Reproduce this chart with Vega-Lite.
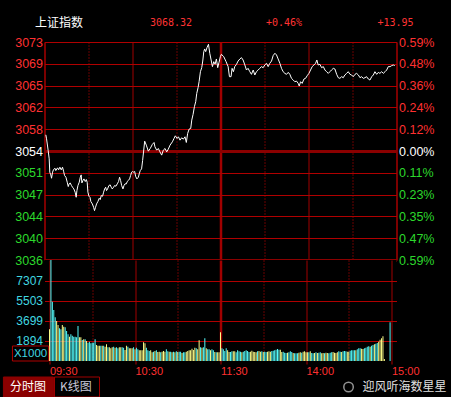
{
"$schema": "https://vega.github.io/schema/vega-lite/v6.json",
"background": "#000000",
"padding": {"left": 2.5, "top": 2, "right": 4, "bottom": 0},
"spacing": 0,
"config": {
  "view": {"stroke": null},
  "axis": {"labelFont": "Liberation Sans", "title": null, "domain": false}
},
"datasets": {
"price": [
{"m":0.9,"p":3057.07},{"m":1.4,"p":3056.40},{"m":2.5,"p":3054.45},{"m":3.2,"p":3053.06},{"m":3.6,"p":3050.84},{"m":4.3,"p":3050.39},{"m":4.8,"p":3049.83},{"m":5.5,"p":3050.84},{"m":6.1,"p":3051.23},{"m":7.1,"p":3051.50},{"m":7.7,"p":3051.11},{"m":8.9,"p":3051.56},{"m":9.6,"p":3051.23},{"m":10.5,"p":3051.67},{"m":11.4,"p":3051.23},{"m":12.3,"p":3051.67},{"m":13.0,"p":3051.00},{"m":13.7,"p":3050.28},{"m":14.6,"p":3050.00},{"m":15.5,"p":3049.17},{"m":16.2,"p":3048.44},{"m":16.8,"p":3048.89},{"m":17.5,"p":3049.05},{"m":18.4,"p":3048.61},{"m":19.1,"p":3048.33},{"m":20.0,"p":3048.05},{"m":20.9,"p":3047.50},{"m":21.6,"p":3046.66},{"m":22.1,"p":3047.77},{"m":22.8,"p":3048.61},{"m":23.7,"p":3049.17},{"m":24.4,"p":3050.00},{"m":25.0,"p":3050.39},{"m":25.5,"p":3049.05},{"m":26.2,"p":3049.44},{"m":26.9,"p":3049.72},{"m":27.8,"p":3049.28},{"m":28.5,"p":3049.61},{"m":29.1,"p":3049.17},{"m":29.6,"p":3047.50},{"m":30.3,"p":3046.83},{"m":31.0,"p":3046.66},{"m":31.6,"p":3045.94},{"m":32.6,"p":3045.55},{"m":33.5,"p":3044.99},{"m":34.1,"p":3044.43},{"m":34.8,"p":3044.99},{"m":35.5,"p":3045.55},{"m":36.4,"p":3045.94},{"m":37.3,"p":3046.49},{"m":38.0,"p":3046.27},{"m":38.7,"p":3046.94},{"m":39.6,"p":3046.83},{"m":40.3,"p":3047.50},{"m":41.0,"p":3048.05},{"m":41.7,"p":3048.33},{"m":42.3,"p":3047.77},{"m":43.0,"p":3048.05},{"m":43.9,"p":3048.61},{"m":44.8,"p":3048.72},{"m":45.5,"p":3048.33},{"m":46.2,"p":3048.05},{"m":47.1,"p":3048.33},{"m":47.8,"p":3048.61},{"m":48.7,"p":3048.50},{"m":49.6,"p":3048.89},{"m":50.5,"p":3049.28},{"m":51.2,"p":3050.00},{"m":51.9,"p":3049.44},{"m":52.6,"p":3048.61},{"m":53.5,"p":3048.05},{"m":54.2,"p":3048.61},{"m":54.9,"p":3048.89},{"m":55.8,"p":3048.89},{"m":56.4,"p":3049.28},{"m":57.1,"p":3049.44},{"m":58.0,"p":3049.72},{"m":58.7,"p":3050.28},{"m":59.4,"p":3050.84},{"m":60.1,"p":3050.95},{"m":60.8,"p":3050.84},{"m":61.5,"p":3050.95},{"m":62.1,"p":3050.17},{"m":63.0,"p":3049.72},{"m":64.0,"p":3050.00},{"m":64.6,"p":3050.56},{"m":65.3,"p":3051.11},{"m":66.2,"p":3051.39},{"m":66.9,"p":3052.79},
{"m":68.3,"p":3056.01},{"m":69.4,"p":3055.35},{"m":70.8,"p":3054.34},{"m":72.1,"p":3054.79},{"m":73.5,"p":3055.46},{"m":74.7,"p":3055.79},{"m":75.3,"p":3055.07},{"m":76.5,"p":3054.51},{"m":77.6,"p":3054.79},{"m":78.7,"p":3054.23},{"m":79.9,"p":3053.68},{"m":81.0,"p":3054.51},{"m":82.2,"p":3054.79},{"m":83.3,"p":3054.23},{"m":84.4,"p":3054.68},{"m":85.6,"p":3055.35},{"m":87.2,"p":3055.90},{"m":88.3,"p":3056.46},{"m":89.2,"p":3056.90},{"m":90.4,"p":3056.46},{"m":91.3,"p":3056.74},{"m":92.4,"p":3056.18},{"m":93.5,"p":3056.57},{"m":94.7,"p":3056.35},{"m":95.8,"p":3056.74},{"m":96.7,"p":3055.79},{"m":97.6,"p":3057.29},{"m":98.6,"p":3058.02},{"m":99.7,"p":3058.13},{"m":100.4,"p":3059.52},{"m":101.3,"p":3060.47},{"m":102.2,"p":3061.75},{"m":103.1,"p":3062.58},{"m":103.8,"p":3063.97},{"m":104.7,"p":3064.92},{"m":105.4,"p":3065.92},{"m":106.3,"p":3067.59},{"m":107.2,"p":3068.26},{"m":107.9,"p":3069.37},{"m":108.6,"p":3070.93},{"m":109.2,"p":3071.38},{"m":109.9,"p":3070.93},{"m":110.8,"p":3071.60},{"m":111.8,"p":3072.16},{"m":112.7,"p":3070.65},{"m":113.6,"p":3069.54},{"m":114.5,"p":3068.43},{"m":115.4,"p":3069.26},{"m":116.3,"p":3068.82},{"m":117.2,"p":3069.71},{"m":118.1,"p":3068.26},{"m":119.0,"p":3069.15},{"m":119.9,"p":3070.10},
{"m":120.6,"p":3070.49},{"m":122.2,"p":3070.10},{"m":123.8,"p":3069.26},{"m":125.2,"p":3068.43},{"m":126.1,"p":3066.76},{"m":127.2,"p":3066.76},{"m":127.9,"p":3068.15},{"m":128.8,"p":3067.59},{"m":129.7,"p":3068.43},{"m":130.9,"p":3068.82},{"m":132.0,"p":3069.37},{"m":133.2,"p":3069.71},{"m":134.3,"p":3069.93},{"m":135.4,"p":3069.54},{"m":136.6,"p":3068.71},{"m":137.7,"p":3067.87},{"m":138.8,"p":3068.15},{"m":140.0,"p":3067.59},{"m":141.1,"p":3067.15},{"m":142.3,"p":3067.87},{"m":143.4,"p":3067.04},{"m":144.5,"p":3067.59},{"m":145.7,"p":3067.87},{"m":146.8,"p":3068.15},{"m":147.9,"p":3068.43},{"m":149.1,"p":3068.26},{"m":150.2,"p":3068.71},{"m":151.4,"p":3068.98},{"m":152.5,"p":3068.43},{"m":153.6,"p":3068.98},{"m":154.8,"p":3069.37},{"m":155.9,"p":3070.27},{"m":157.1,"p":3070.66},{"m":158.2,"p":3070.38},{"m":159.3,"p":3069.71},{"m":160.5,"p":3068.98},{"m":161.6,"p":3068.15},{"m":162.7,"p":3067.59},{"m":163.9,"p":3067.31},{"m":165.0,"p":3067.15},{"m":166.2,"p":3067.48},{"m":167.3,"p":3067.15},{"m":168.4,"p":3066.48},{"m":169.6,"p":3066.20},{"m":170.7,"p":3065.92},{"m":171.8,"p":3066.03},{"m":173.0,"p":3065.64},{"m":173.7,"p":3065.20},{"m":174.6,"p":3065.92},{"m":175.7,"p":3065.64},{"m":176.9,"p":3066.37},{"m":178.0,"p":3066.48},{"m":179.1,"p":3066.92},{"m":180.3,"p":3067.31},{"m":181.4,"p":3067.87},{"m":182.5,"p":3068.43},{"m":183.7,"p":3068.71},{"m":184.8,"p":3068.98},{"m":185.7,"p":3069.54},{"m":186.6,"p":3068.71},{"m":187.8,"p":3068.82},{"m":188.9,"p":3068.26},{"m":190.1,"p":3068.43},{"m":191.2,"p":3067.87},{"m":192.3,"p":3067.59},{"m":193.5,"p":3067.31},{"m":194.6,"p":3067.59},{"m":195.7,"p":3067.87},{"m":196.9,"p":3068.15},{"m":198.0,"p":3068.04},{"m":199.2,"p":3067.15},{"m":200.3,"p":3066.59},{"m":201.4,"p":3066.48},{"m":202.6,"p":3066.76},{"m":203.7,"p":3066.59},{"m":204.8,"p":3067.04},{"m":206.0,"p":3067.31},{"m":207.1,"p":3067.59},{"m":208.3,"p":3067.15},{"m":209.4,"p":3067.04},{"m":210.5,"p":3066.76},{"m":211.7,"p":3067.15},{"m":212.8,"p":3067.31},{"m":214.0,"p":3067.04},{"m":215.1,"p":3066.59},{"m":216.2,"p":3066.76},{"m":217.4,"p":3066.48},{"m":218.5,"p":3066.59},{"m":219.6,"p":3066.76},{"m":220.8,"p":3066.37},{"m":221.9,"p":3066.20},{"m":223.1,"p":3066.76},{"m":224.2,"p":3067.04},{"m":225.3,"p":3067.59},{"m":226.5,"p":3067.15},{"m":227.6,"p":3067.48},{"m":228.7,"p":3067.31},{"m":229.9,"p":3067.59},{"m":231.0,"p":3067.31},{"m":232.2,"p":3067.59},{"m":233.3,"p":3067.87},{"m":234.4,"p":3068.43},{"m":235.6,"p":3068.43},{"m":236.7,"p":3068.60},{"m":237.8,"p":3068.71},{"m":238.8,"p":3068.60}
],
"vol": [
{"m":0,"v":2950,"c":"Y"},{"m":1,"v":9200,"c":"C"},{"m":2,"v":5444,"c":"C"},{"m":3,"v":4692,"c":"C"},{"m":4,"v":4031,"c":"C"},{"m":5,"v":3700,"c":"Y"},{"m":6,"v":3339,"c":"Y"},{"m":7,"v":3038,"c":"C"},{"m":8,"v":2948,"c":"C"},{"m":9,"v":3339,"c":"Y"},
{"m":10,"v":3189,"c":"Y"},{"m":11,"v":3128,"c":"C"},{"m":12,"v":2798,"c":"C"},{"m":13,"v":2497,"c":"C"},{"m":14,"v":2286,"c":"Y"},{"m":15,"v":2497,"c":"C"},{"m":16,"v":2377,"c":"C"},{"m":17,"v":2286,"c":"C"},{"m":18,"v":2286,"c":"C"},{"m":19,"v":2226,"c":"C"},
{"m":20,"v":3249,"c":"C"},{"m":21,"v":2226,"c":"Y"},{"m":22,"v":2226,"c":"Y"},{"m":23,"v":1986,"c":"C"},{"m":24,"v":2046,"c":"Y"},{"m":25,"v":2046,"c":"C"},{"m":26,"v":1896,"c":"Y"},{"m":27,"v":1745,"c":"C"},{"m":28,"v":1835,"c":"C"},{"m":29,"v":1685,"c":"C"},
{"m":30,"v":1745,"c":"C"},{"m":31,"v":1745,"c":"C"},{"m":32,"v":2046,"c":"C"},{"m":33,"v":1535,"c":"Y"},{"m":34,"v":1475,"c":"Y"},{"m":35,"v":1475,"c":"Y"},{"m":36,"v":1475,"c":"C"},{"m":37,"v":1475,"c":"Y"},{"m":38,"v":1475,"c":"C"},{"m":39,"v":1385,"c":"Y"},
{"m":40,"v":1595,"c":"Y"},{"m":41,"v":1324,"c":"C"},{"m":42,"v":1324,"c":"Y"},{"m":43,"v":1234,"c":"Y"},{"m":44,"v":1324,"c":"Y"},{"m":45,"v":1385,"c":"C"},{"m":46,"v":1294,"c":"Y"},{"m":47,"v":1324,"c":"C"},{"m":48,"v":1234,"c":"C"},{"m":49,"v":1324,"c":"Y"},
{"m":50,"v":1324,"c":"Y"},{"m":51,"v":1324,"c":"C"},{"m":52,"v":1294,"c":"C"},{"m":53,"v":1084,"c":"Y"},{"m":54,"v":1475,"c":"Y"},{"m":55,"v":1385,"c":"C"},{"m":56,"v":1234,"c":"Y"},{"m":57,"v":1234,"c":"Y"},{"m":58,"v":1234,"c":"Y"},{"m":59,"v":1324,"c":"C"},
{"m":60,"v":1144,"c":"Y"},{"m":61,"v":1294,"c":"C"},{"m":62,"v":1144,"c":"C"},{"m":63,"v":1054,"c":"Y"},{"m":64,"v":1054,"c":"Y"},{"m":65,"v":1054,"c":"Y"},{"m":66,"v":1775,"c":"Y"},{"m":67,"v":1685,"c":"Y"},{"m":68,"v":1294,"c":"C"},{"m":69,"v":1054,"c":"C"},
{"m":70,"v":993,"c":"C"},{"m":71,"v":1054,"c":"Y"},{"m":72,"v":873,"c":"Y"},{"m":73,"v":933,"c":"C"},{"m":74,"v":993,"c":"Y"},{"m":75,"v":1054,"c":"C"},{"m":76,"v":903,"c":"Y"},{"m":77,"v":933,"c":"Y"},{"m":78,"v":873,"c":"C"},{"m":79,"v":933,"c":"Y"},
{"m":80,"v":993,"c":"Y"},{"m":81,"v":933,"c":"Y"},{"m":82,"v":1144,"c":"C"},{"m":83,"v":963,"c":"C"},{"m":84,"v":933,"c":"Y"},{"m":85,"v":933,"c":"C"},{"m":86,"v":873,"c":"Y"},{"m":87,"v":933,"c":"C"},{"m":88,"v":873,"c":"Y"},{"m":89,"v":963,"c":"C"},
{"m":90,"v":903,"c":"Y"},{"m":91,"v":933,"c":"C"},{"m":92,"v":933,"c":"C"},{"m":93,"v":813,"c":"Y"},{"m":94,"v":873,"c":"C"},{"m":95,"v":873,"c":"C"},{"m":96,"v":933,"c":"Y"},{"m":97,"v":993,"c":"Y"},{"m":98,"v":1054,"c":"Y"},{"m":99,"v":1054,"c":"Y"},
{"m":100,"v":1204,"c":"Y"},{"m":101,"v":1084,"c":"Y"},{"m":102,"v":1294,"c":"Y"},{"m":103,"v":1234,"c":"C"},{"m":104,"v":1144,"c":"Y"},{"m":105,"v":1956,"c":"Y"},{"m":106,"v":1324,"c":"C"},{"m":107,"v":1294,"c":"Y"},{"m":108,"v":1324,"c":"C"},{"m":109,"v":2136,"c":"C"},
{"m":110,"v":1234,"c":"Y"},{"m":111,"v":1144,"c":"C"},{"m":112,"v":1144,"c":"C"},{"m":113,"v":1054,"c":"Y"},{"m":114,"v":1144,"c":"C"},{"m":115,"v":1054,"c":"C"},{"m":116,"v":903,"c":"Y"},{"m":117,"v":873,"c":"C"},{"m":118,"v":873,"c":"Y"},{"m":119,"v":873,"c":"Y"},
{"m":120,"v":2678,"c":"Y"},{"m":121,"v":1234,"c":"C"},{"m":122,"v":1144,"c":"C"},{"m":123,"v":993,"c":"C"},{"m":124,"v":1234,"c":"C"},{"m":125,"v":1054,"c":"Y"},{"m":126,"v":903,"c":"Y"},{"m":127,"v":903,"c":"C"},{"m":128,"v":963,"c":"C"},{"m":129,"v":963,"c":"Y"},
{"m":130,"v":963,"c":"Y"},{"m":131,"v":873,"c":"C"},{"m":132,"v":1054,"c":"C"},{"m":133,"v":963,"c":"C"},{"m":134,"v":933,"c":"C"},{"m":135,"v":873,"c":"Y"},{"m":136,"v":933,"c":"C"},{"m":137,"v":993,"c":"C"},{"m":138,"v":1054,"c":"C"},{"m":139,"v":993,"c":"C"},
{"m":140,"v":903,"c":"C"},{"m":141,"v":933,"c":"Y"},{"m":142,"v":1024,"c":"Y"},{"m":143,"v":933,"c":"Y"},{"m":144,"v":903,"c":"Y"},{"m":145,"v":873,"c":"Y"},{"m":146,"v":963,"c":"C"},{"m":147,"v":993,"c":"Y"},{"m":148,"v":933,"c":"Y"},{"m":149,"v":963,"c":"C"},
{"m":150,"v":903,"c":"Y"},{"m":151,"v":933,"c":"C"},{"m":152,"v":903,"c":"C"},{"m":153,"v":933,"c":"Y"},{"m":154,"v":963,"c":"Y"},{"m":155,"v":933,"c":"Y"},{"m":156,"v":993,"c":"C"},{"m":157,"v":1024,"c":"C"},{"m":158,"v":1054,"c":"C"},{"m":159,"v":1114,"c":"C"},
{"m":160,"v":1174,"c":"C"},{"m":161,"v":1114,"c":"C"},{"m":162,"v":1114,"c":"Y"},{"m":163,"v":903,"c":"Y"},{"m":164,"v":933,"c":"C"},{"m":165,"v":843,"c":"C"},{"m":166,"v":813,"c":"C"},{"m":167,"v":843,"c":"Y"},{"m":168,"v":873,"c":"C"},{"m":169,"v":963,"c":"C"},
{"m":170,"v":903,"c":"C"},{"m":171,"v":813,"c":"Y"},{"m":172,"v":783,"c":"C"},{"m":173,"v":783,"c":"C"},{"m":174,"v":783,"c":"C"},{"m":175,"v":843,"c":"Y"},{"m":176,"v":873,"c":"Y"},{"m":177,"v":843,"c":"C"},{"m":178,"v":933,"c":"Y"},{"m":179,"v":963,"c":"Y"},
{"m":180,"v":873,"c":"Y"},{"m":181,"v":873,"c":"Y"},{"m":182,"v":873,"c":"C"},{"m":183,"v":963,"c":"Y"},{"m":184,"v":813,"c":"C"},{"m":185,"v":783,"c":"C"},{"m":186,"v":813,"c":"Y"},{"m":187,"v":873,"c":"C"},{"m":188,"v":813,"c":"Y"},{"m":189,"v":843,"c":"C"},
{"m":190,"v":873,"c":"C"},{"m":191,"v":783,"c":"Y"},{"m":192,"v":813,"c":"Y"},{"m":193,"v":783,"c":"C"},{"m":194,"v":843,"c":"Y"},{"m":195,"v":813,"c":"Y"},{"m":196,"v":783,"c":"C"},{"m":197,"v":843,"c":"C"},{"m":198,"v":873,"c":"C"},{"m":199,"v":903,"c":"Y"},
{"m":200,"v":843,"c":"Y"},{"m":201,"v":813,"c":"Y"},{"m":202,"v":873,"c":"Y"},{"m":203,"v":963,"c":"C"},{"m":204,"v":933,"c":"C"},{"m":205,"v":903,"c":"Y"},{"m":206,"v":963,"c":"C"},{"m":207,"v":993,"c":"C"},{"m":208,"v":963,"c":"C"},{"m":209,"v":933,"c":"Y"},
{"m":210,"v":933,"c":"Y"},{"m":211,"v":1024,"c":"C"},{"m":212,"v":1054,"c":"C"},{"m":213,"v":1054,"c":"C"},{"m":214,"v":1054,"c":"C"},{"m":215,"v":1054,"c":"Y"},{"m":216,"v":1144,"c":"C"},{"m":217,"v":1234,"c":"C"},{"m":218,"v":1234,"c":"C"},{"m":219,"v":1204,"c":"Y"},
{"m":220,"v":1174,"c":"Y"},{"m":221,"v":1234,"c":"C"},{"m":222,"v":1294,"c":"C"},{"m":223,"v":1385,"c":"C"},{"m":224,"v":1415,"c":"C"},{"m":225,"v":1385,"c":"Y"},{"m":226,"v":1475,"c":"C"},{"m":227,"v":1535,"c":"C"},{"m":228,"v":1595,"c":"Y"},{"m":229,"v":1655,"c":"C"},
{"m":230,"v":1715,"c":"C"},{"m":231,"v":1835,"c":"Y"},{"m":232,"v":2016,"c":"Y"},{"m":233,"v":2136,"c":"Y"},{"m":234,"v":2317,"c":"Y"},{"m":235,"v":271,"c":"Y"},{"m":239,"v":3580,"c":"C"}
]
},
"vconcat": [
{
  "bounds": "flush",
  "spacing": 0,
  "vconcat": [
    {
      "width": 352, "height": 40,
      "view": {"stroke": null, "fill": "#000000"},
      "data": {"values": [{}]},
      "layer": [
        {"mark": {"type": "text", "font": "Noto Sans CJK SC", "fontSize": 12, "color": "#ffffff", "dy": 1},
         "encoding": {"x": {"datum": 9.9, "type": "quantitative", "scale": {"domain": [0, 240], "nice": false, "zero": false}, "axis": null}, "text": {"value": "上证指数"}}},
        {"mark": {"type": "text", "font": "DejaVu Sans Mono", "fontSize": 10, "color": "#ff3333", "dy": 1},
         "encoding": {"x": {"datum": 86.3, "type": "quantitative"}, "text": {"value": "3068.32"}}},
        {"mark": {"type": "text", "font": "DejaVu Sans Mono", "fontSize": 10, "color": "#ff3333", "dy": 1},
         "encoding": {"x": {"datum": 163.3, "type": "quantitative"}, "text": {"value": "+0.46%"}}},
        {"mark": {"type": "text", "font": "DejaVu Sans Mono", "fontSize": 10, "color": "#ff3333", "dy": 1},
         "encoding": {"x": {"datum": 239.3, "type": "quantitative"}, "text": {"value": "+13.95"}}}
      ]
    },
    {
      "width": 352, "height": 218,
      "view": {"stroke": "#b00000", "strokeWidth": 1, "fill": "#000000"},
      "data": {"name": "price"},
      "layer": [
        {"mark": {"type": "line", "color": "#ffffff", "strokeWidth": 1},
         "encoding": {
           "x": {"field": "m", "type": "quantitative", "scale": {"domain": [0, 240], "nice": false, "zero": false},
                 "axis": {"values": [0, 30, 60, 90, 120, 150, 180, 210, 240], "labels": false, "ticks": false, "domain": false, "grid": true,
                          "gridColor": {"condition": {"test": "datum.value % 60 == 30", "value": "#d00000"}, "value": "#a00000"},
                          "gridDash": {"condition": {"test": "datum.value % 60 == 30", "value": [1, 2]}, "value": []},
                          "gridWidth": {"condition": {"test": "datum.value == 120", "value": 2.5}, "value": 1}}},
           "y": {"field": "p", "type": "quantitative", "scale": {"domain": [3036.2, 3072.54], "nice": false, "zero": false},
                 "axis": {"orient": "left", "values": [3036.2, 3039.84, 3043.5, 3047.1, 3050.74, 3054.37, 3058.0, 3061.64, 3065.27, 3068.9, 3072.54],
                          "labelExpr": "format(round(datum.value), 'd')", "labelFontSize": 12.5, "labelPadding": 2, "ticks": false, "tickSize": 0, "domain": false,
                          "labelOverlap": false, "labelFlush": false,
                          "labelColor": {"condition": [{"test": "datum.value > 3054.5", "value": "#ff3030"}, {"test": "datum.value < 3054.2", "value": "#2cd82c"}], "value": "#ffffff"},
                          "grid": true,
                          "gridColor": {"condition": {"test": "abs(datum.value - 3054.37) < 0.01 || datum.value < 3037", "value": "#8b0000"}, "value": "#b00000"},
                          "gridWidth": {"condition": {"test": "abs(datum.value - 3054.37) < 0.01 || datum.value < 3037", "value": 3}, "value": 1}}}
         }},
        {"mark": {"type": "point", "opacity": 0},
         "encoding": {
           "y": {"field": "p", "type": "quantitative",
                 "axis": {"orient": "right", "values": [3036.2, 3039.84, 3043.5, 3047.1, 3050.74, 3054.37, 3058.0, 3061.64, 3065.27, 3068.9, 3072.54],
                          "labelExpr": "(datum.value >= 3054.37 ? format(round((datum.value - 3054.37) / 3054.37 * 10000) / 100, '.2f') : format(floor((3054.37 - datum.value) / 3054.37 * 10000) / 100, '.2f')) + '%'",
                          "labelFontSize": 12.5, "labelPadding": 2, "ticks": false, "tickSize": 0, "domain": false, "grid": false,
                          "labelOverlap": false, "labelFlush": false,
                          "labelColor": {"condition": [{"test": "datum.value > 3054.5", "value": "#ff3030"}, {"test": "datum.value < 3054.2", "value": "#2cd82c"}], "value": "#ffffff"}}}
         }}
      ],
      "resolve": {"axis": {"y": "independent"}}
    },
    {
      "width": 352, "height": 101,
      "view": {"stroke": null, "fill": "#000000"},
      "data": {"name": "vol"},
      "layer": [
        {"mark": {"type": "bar", "width": 1, "clip": true},
         "encoding": {
           "x": {"field": "m", "type": "quantitative", "scale": {"domain": [0, 240], "nice": false, "zero": false},
                 "axis": {"values": [0, 30, 60, 90, 120, 150, 180, 210, 240],
                          "labelExpr": "datum.value == 0 ? '09:30' : datum.value == 60 ? '10:30' : datum.value == 120 ? '11:30' : datum.value == 180 ? '14:00' : datum.value == 240 ? '15:00' : ''",
                          "labelAlign": "left", "labelFontSize": 11, "labelColor": "#ff3030", "labelPadding": 1, "labelFlush": false, "labelOverlap": false,
                          "ticks": true, "tickSize": 3, "tickColor": "#b00000",
                          "tickOpacity": {"condition": {"test": "datum.value % 60 == 30", "value": 0}, "value": 1},
                          "domain": false, "grid": true,
                          "gridColor": {"condition": {"test": "datum.value % 60 == 30", "value": "#d00000"}, "value": "#a00000"},
                          "gridDash": {"condition": {"test": "datum.value % 60 == 30", "value": [1, 2]}, "value": []},
                          "gridWidth": {"condition": {"test": "datum.value == 120", "value": 2.5}, "value": 1}}},
           "y": {"field": "v", "type": "quantitative", "scale": {"domain": [90, 9200], "nice": false, "zero": false},
                 "axis": {"values": [1894, 3699, 5503, 7307],
                          "labelExpr": "format(datum.value, 'd')",
                          "labelFontSize": 12, "labelColor": "#40d8e0", "labelPadding": 2, "ticks": false, "tickSize": 0, "domain": false,
                          "labelOverlap": false, "labelFlush": false,
                          "grid": true, "gridColor": "#b00000"}},
           "color": {"field": "c", "type": "nominal", "scale": {"domain": ["C", "Y"], "range": ["#54fcfc", "#fcfc88"]}, "legend": null}
         }},
        {"data": {"values": [{}]},
         "mark": {"type": "rect", "fillOpacity": 0, "stroke": "#b00000", "strokeWidth": 1},
         "encoding": {"x": {"datum": -26, "axis": null}, "x2": {"datum": -0.6}, "y": {"datum": 90, "axis": null}, "y2": {"datum": 1443}}},
        {"data": {"values": [{}]},
         "mark": {"type": "text", "font": "Liberation Sans", "fontSize": 11.5, "color": "#40d8e0"},
         "encoding": {"x": {"datum": -13.3, "axis": null}, "y": {"datum": 720, "axis": null}, "text": {"value": "X1000"}}}
      ],
      "resolve": {"axis": {"x": "independent", "y": "independent"}}
    }
  ]
},
{
  "width": 352, "height": 20,
  "view": {"stroke": null, "fill": "#000000"},
  "data": {"values": [{}]},
  "layer": [
    {"mark": {"type": "rect", "fill": "#8b0000", "stroke": "#8b0000"},
     "encoding": {"x": {"datum": -28, "type": "quantitative", "scale": {"domain": [0, 240], "nice": false, "zero": false}, "axis": null}, "x2": {"datum": 6.1}}},
    {"mark": {"type": "rect", "fill": "#000000", "stroke": "#a00000"},
     "encoding": {"x": {"datum": 6.8, "type": "quantitative"}, "x2": {"datum": 37.5}}},
    {"mark": {"type": "text", "font": "Noto Sans CJK SC", "fontSize": 12, "color": "#ffffff"},
     "encoding": {"x": {"datum": -11.2, "type": "quantitative"}, "text": {"value": "分时图"}}},
    {"mark": {"type": "text", "font": "Noto Sans CJK SC", "fontSize": 12, "color": "#c8c8d8"},
     "encoding": {"x": {"datum": 21.4, "type": "quantitative"}, "text": {"value": "K线图"}}},
    {"mark": {"type": "point", "shape": "circle", "filled": false, "size": 90, "color": "#d0d0d0", "strokeWidth": 1.5},
     "encoding": {"x": {"datum": 207.3, "type": "quantitative"}}},
    {"mark": {"type": "text", "font": "Noto Sans CJK SC", "fontSize": 12, "color": "#e0e0e0", "align": "left"},
     "encoding": {"x": {"datum": 216.8, "type": "quantitative"}, "text": {"value": "迎风听海数星星"}}}
  ]
}
]
}
